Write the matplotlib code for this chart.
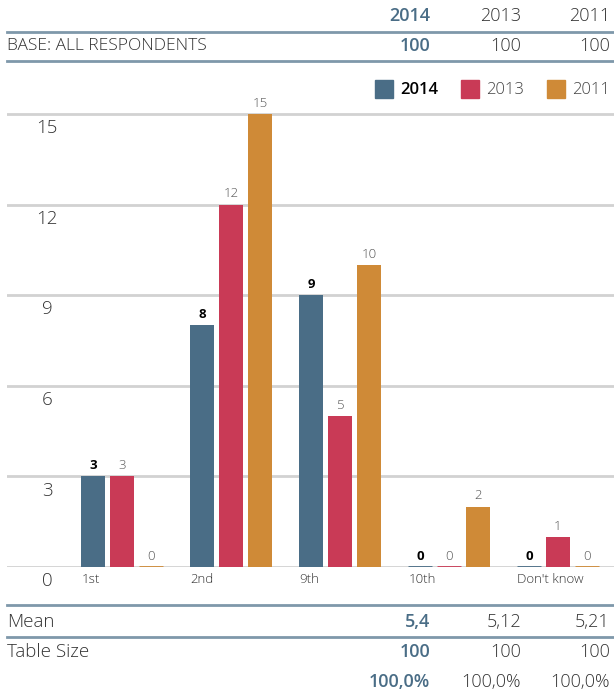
import matplotlib
matplotlib.use("Agg")
import matplotlib.pyplot as plt
import numpy as np
from matplotlib.lines import Line2D
from matplotlib.patches import Rectangle

plt.rcParams['font.family'] = ['Open Sans', 'DejaVu Sans']

# Data
categories = ["1st", "2nd", "9th", "10th", "Don't know"]
years = ["2014", "2013", "2011"]
values_2014 = [3, 8, 9, 0, 0]
values_2013 = [3, 12, 5, 0, 1]
values_2011 = [0, 15, 10, 2, 0]
base = ["100", "100", "100"]
means = ["5,4", "5,12", "5,21"]
table_size = ["100", "100", "100"]
totals = ["100,0%", "100,0%", "100,0%"]
y_ticks = [0, 3, 6, 9, 12, 15]

colors = ["#4a6d86", "#c93a56", "#cf8a37"]
line_col = "#7f98aa"
grid_col = "#d2d2d2"
text_col = "#333333"
light = 'light'
strong = 'semibold'

W, H = 614, 695
fig = plt.figure(figsize=(W / 100, H / 100), dpi=100)


def fx(px):
    return px / W


def fy(py):
    return 1 - py / H


# Bar chart axes
ax_top_px, ax_bot_px = 100, 567
ax = fig.add_axes([fx(7), fy(ax_bot_px), fx(607), (ax_bot_px - ax_top_px) / H])
ymax = (ax_bot_px - ax_top_px) / ((ax_bot_px - 114) / 15)
ax.set_ylim(0, ymax)
ax.set_xlim(-1.055, 4.514)
for s in ax.spines.values():
    s.set_visible(False)
ax.set_xticks([])
ax.set_yticks([])
for t in y_ticks:
    ax.axhline(t, color=grid_col, lw=2, zorder=0)
    ax.text(0.066, t - 0.47, str(t), transform=ax.get_yaxis_transform(),
            ha='center', va='center', fontsize=13.5, color=text_col,
            fontweight=light)

series = [values_2014, values_2013, values_2011]
x = np.arange(len(categories))
bw = 0.212
off = 0.266
for k, (vals, c) in enumerate(zip(series, colors)):
    pos = x + (k - 1) * off
    lws = [2.0 if v == 0 else 0 for v in vals]
    ax.bar(pos, vals, width=bw, color=c, edgecolor=c, linewidth=lws, zorder=2)
    for p, v in zip(pos, vals):
        ax.annotate(str(v), (p, v), xytext=(0, 3), textcoords='offset points',
                    ha='center', va='bottom', fontsize=9.5,
                    color='black' if k == 0 else '#555555',
                    fontweight='bold' if k == 0 else light)

for i, cat in enumerate(categories):
    ax.text(i - off - bw / 2, -0.43, cat, ha='left', va='center',
            fontsize=9.5, color=text_col, clip_on=False, fontweight=light)

# Legend
leg_x = [375, 461, 547]
for lx, yr, c in zip(leg_x, years, colors):
    fig.add_artist(Rectangle((fx(lx), fy(98)), fx(18), 18 / H,
                             transform=fig.transFigure, color=c))
    fig.text(fx(lx + 25), fy(90), yr, ha='left', va='center', fontsize=12,
             color='black' if yr == "2014" else '#444444',
             fontweight=strong if yr == "2014" else light)

# Table
col_right = [430, 521, 610]


def hline(py):
    fig.add_artist(Line2D([fx(7), fx(614)], [fy(py), fy(py)],
                          transform=fig.transFigure, color=line_col, lw=2))


def row(py, label, vals, size=13, label_size=13):
    if label:
        fig.text(fx(7), fy(py), label, ha='left', va='center',
                 fontsize=label_size, color=text_col, fontweight=light)
    for j, (xr, v) in enumerate(zip(col_right, vals)):
        fig.text(fx(xr), fy(py), v, ha='right', va='center', fontsize=size,
                 color=colors[0] if j == 0 else text_col,
                 fontweight=strong if j == 0 else light)


row(16, None, years)
hline(32)
row(46, "BASE: ALL RESPONDENTS", base, label_size=12.5)
hline(61)
hline(605)
row(622, "Mean", means, label_size=13.5)
hline(637)
row(652, "Table Size", table_size, label_size=13.5)
row(682, None, totals)

fig.savefig("out.png", dpi=100)
